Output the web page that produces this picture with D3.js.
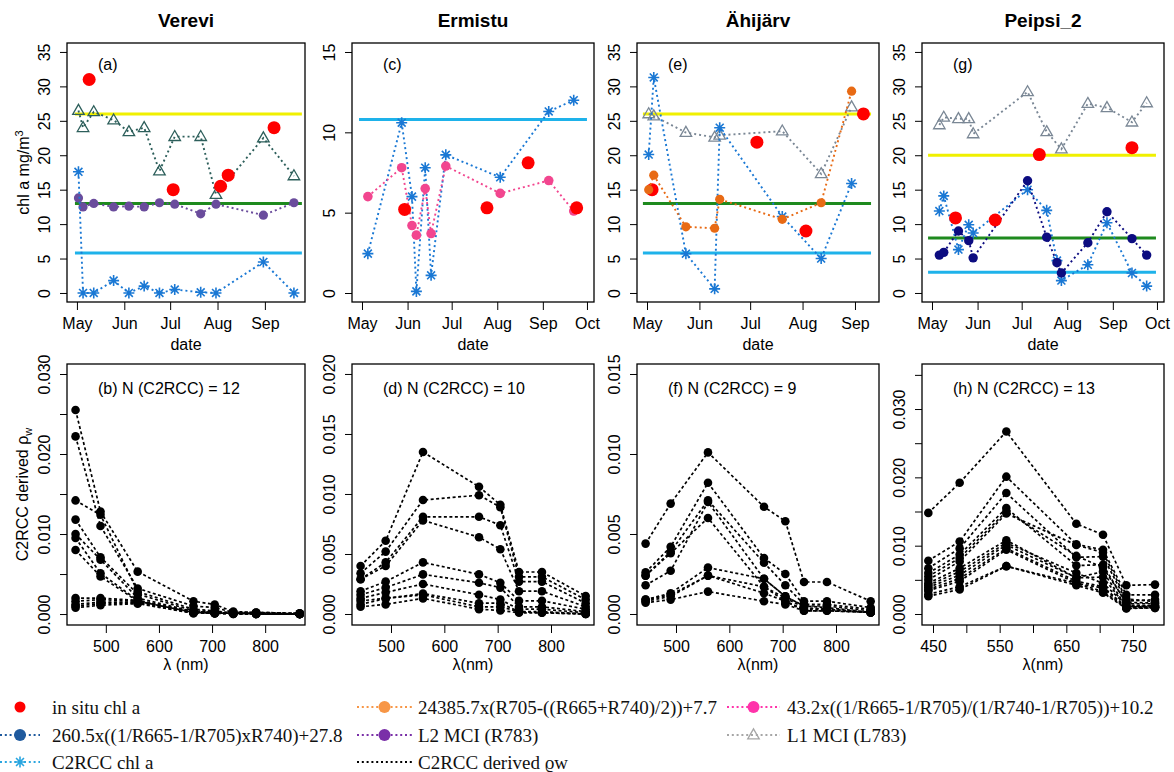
<!DOCTYPE html>
<html>
<head>
<meta charset="utf-8">
<script src="https://cdn.jsdelivr.net/npm/d3@7"></script>
<style>
  body { margin: 0; background: #fff; }
  svg { display: block; }
</style>
</head>
<body>
<svg id="chart" width="1174" height="772"></svg>
<script>
// ---- data ----
const lakes = ["Verevi", "Ermistu", "Ähijärv", "Peipsi_2"];
const panelTags = ["(a)", "(c)", "(e)", "(g)"];
const spectraTags = ["(b) N (C2RCC) = 12", "(d) N (C2RCC) = 10", "(f) N (C2RCC) = 9", "(h) N (C2RCC) = 13"];

// Verevi
const verDates = ["2017-05-02","2017-05-05","2017-05-12","2017-05-25","2017-06-04","2017-06-14","2017-06-24","2017-07-04","2017-07-21","2017-07-31","2017-08-31","2017-09-20"];
const verL1 = [26.5, 24.0, 26.3, 25.1, 23.4, 24.0, 17.7, 22.7, 22.7, 14.3, 22.5, 17.0];
const verL2 = [13.8, 12.5, 13.0, 12.5, 12.6, 12.5, 13.1, 12.9, 11.5, 12.9, 11.3, 13.1];
const verC2 = [17.6, 0.0, 0.0, 1.8, 0.0, 1.0, 0.0, 0.5, 0.1, 0.0, 4.5, 0.0];
const verInsituDates = ["2017-05-09","2017-07-03","2017-08-03","2017-08-08","2017-09-07"];
const verInsitu = [31.0, 15.0, 15.5, 17.1, 24.0];
const verLevels = [26, 13, 5.8];

// Ermistu
const ermDates = ["2017-05-05","2017-05-28","2017-06-04","2017-06-07","2017-06-13","2017-06-17","2017-06-27","2017-08-03","2017-09-05","2017-09-22"];
const ermPink = [6.0, 7.8, 4.2, 3.6, 6.5, 3.7, 7.9, 6.2, 7.0, 5.1];
const ermC2 = [2.45, 10.6, 6.0, 0.1, 7.8, 1.1, 8.6, 7.2, 11.3, 12.0];
const ermInsituDates = ["2017-05-30","2017-07-25","2017-08-22","2017-09-24"];
const ermInsitu = [5.2, 5.3, 8.1, 5.3];
const ermLevels = [null, null, 10.8];

// Ähijärv
const ahiDates = ["2017-05-02","2017-05-05","2017-05-24","2017-06-10","2017-06-13","2017-07-20","2017-08-12","2017-08-30"];
const ahiOrange = [15.0, 17.1, 9.6, 9.4, 13.6, 10.7, 13.1, 29.3];
const ahiL1 = [26.0, 25.7, 23.3, 22.6, 22.9, 23.5, 17.3, 27.0];
const ahiC2 = [20.1, 31.3, 5.7, 0.6, 24.0, 11.1, 5.0, 15.9];
const ahiInsituDates = ["2017-05-04","2017-07-05","2017-08-03","2017-09-06"];
const ahiInsitu = [15.0, 21.9, 9.0, 26.0];
const ahiLevels = [26, 13, 5.8];

// Peipsi_2
const peiDates = ["2017-05-06","2017-05-09","2017-05-19","2017-05-26","2017-05-29","2017-07-05","2017-07-18","2017-07-25","2017-07-28","2017-08-15","2017-08-28","2017-09-14","2017-09-24"];
const peiNavy = [5.5, 5.9, 9.0, 7.6, 5.1, 16.3, 8.1, 4.4, 2.9, 7.3, 11.8, 7.9, 5.5];
const peiL1 = [24.4, 25.5, 25.3, 25.3, 23.1, 29.2, 23.4, null, 20.9, 27.5, 26.9, 24.8, 27.6];
const peiC2 = [11.9, 14.1, 6.3, 9.9, 8.7, 15.0, 12.0, 4.7, 1.8, 4.1, 10.2, 2.9, 1.0];
const peiInsituDates = ["2017-05-17","2017-06-13","2017-07-13","2017-09-14"];
const peiInsitu = [10.9, 10.6, 20.1, 21.1];
const peiLevels = [20, 8, 3];

// time span of the reference lines
const levelSpans = [
  ["2017-04-29 17", "2017-09-25 05"],
  ["2017-04-29 00", "2017-10-01 00"],
  ["2017-04-28 14", "2017-09-10 12"],
  ["2017-04-28 08", "2017-09-30 08"]
];

// C2RCC water-leaving reflectance spectra
const bandsMSI = [443, 490, 560, 665, 705, 740, 783, 865];
const bandsPei = [443, 490, 560, 665, 705, 740, 783];
const verSpectra = [
  [0.0255, 0.0128, 0.0053, 0.0016, 0.0012, 0.0003, 0.0002, 0.0001],
  [0.0222, 0.0110, 0.0032, 0.0010, 0.0008, 0.0002, 0.0002, 0.0001],
  [0.0142, 0.0124, 0.0028, 0.0006, 0.0004, 0.0001, 0.0001, 0.0000],
  [0.0118, 0.0071, 0.0025, 0.0004, 0.0003, 0.0001, 0.0001, 0.0000],
  [0.0100, 0.0068, 0.0020, 0.0003, 0.0002, 0.0001, 0.0001, 0.0000],
  [0.0095, 0.0051, 0.0017, 0.0002, 0.0002, 0.0001, 0.0001, 0.0000],
  [0.0080, 0.0047, 0.0016, 0.0002, 0.0001, 0.0001, 0.0000, 0.0000],
  [0.0020, 0.0020, 0.0017, 0.0003, 0.0002, 0.0001, 0.0001, 0.0000],
  [0.0016, 0.0018, 0.0016, 0.0002, 0.0001, 0.0001, 0.0001, 0.0000],
  [0.0012, 0.0015, 0.0015, 0.0002, 0.0001, 0.0001, 0.0000, 0.0000],
  [0.0010, 0.0013, 0.0014, 0.0001, 0.0001, 0.0000, 0.0000, 0.0000],
  [0.0008, 0.0011, 0.0013, 0.0001, 0.0001, 0.0000, 0.0000, 0.0000]
];
const ermSpectra = [
  [0.0040, 0.0061, 0.0135, 0.0106, 0.0091, 0.0035, 0.0035, 0.0015],
  [0.0034, 0.0052, 0.0095, 0.0099, 0.0089, 0.0031, 0.0031, 0.0012],
  [0.0029, 0.0043, 0.0081, 0.0081, 0.0074, 0.0027, 0.0027, 0.0009],
  [0.0029, 0.0040, 0.0078, 0.0064, 0.0054, 0.0019, 0.0019, 0.0006],
  [0.0019, 0.0027, 0.0043, 0.0033, 0.0026, 0.0011, 0.0011, 0.0004],
  [0.0016, 0.0022, 0.0033, 0.0026, 0.0022, 0.0006, 0.0006, 0.0002],
  [0.0013, 0.0018, 0.0025, 0.0016, 0.0012, 0.0004, 0.0004, 0.0001],
  [0.0011, 0.0013, 0.0017, 0.0009, 0.0009, 0.0002, 0.0002, 0.0000],
  [0.0008, 0.0013, 0.0016, 0.0006, 0.0006, 0.0002, 0.0001, 0.0000],
  [0.0006, 0.0008, 0.0013, 0.0004, 0.0003, 0.0001, 0.0001, 0.0000]
];
const ahiSpectra = [
  [0.0044, 0.0069, 0.0101, 0.0067, 0.0058, 0.0020, 0.0020, 0.0008],
  [0.0026, 0.0042, 0.0082, 0.0035, 0.0025, 0.0008, 0.0008, 0.0004],
  [0.0024, 0.0039, 0.0071, 0.0032, 0.0018, 0.0006, 0.0006, 0.0003],
  [0.0018, 0.0027, 0.0070, 0.0022, 0.0011, 0.0005, 0.0005, 0.0002],
  [0.0024, 0.0038, 0.0060, 0.0017, 0.0008, 0.0003, 0.0003, 0.0001],
  [0.0009, 0.0013, 0.0029, 0.0022, 0.0011, 0.0005, 0.0004, 0.0001],
  [0.0008, 0.0011, 0.0024, 0.0013, 0.0008, 0.0002, 0.0002, 0.0001],
  [0.0007, 0.0009, 0.0014, 0.0008, 0.0006, 0.0002, 0.0002, 0.0001],
  [0.0009, 0.0012, 0.0024, 0.0017, 0.0010, 0.0004, 0.0003, 0.0001]
];
const peiSpectra = [
  [0.0148, 0.0192, 0.0267, 0.0132, 0.0116, 0.0042, 0.0043],
  [0.0078, 0.0106, 0.0201, 0.0102, 0.0094, 0.0028, 0.0028],
  [0.0067, 0.0096, 0.0177, 0.0083, 0.0084, 0.0019, 0.0021],
  [0.0060, 0.0087, 0.0155, 0.0071, 0.0072, 0.0015, 0.0015],
  [0.0050, 0.0077, 0.0147, 0.0101, 0.0090, 0.0022, 0.0018],
  [0.0045, 0.0067, 0.0108, 0.0053, 0.0062, 0.0011, 0.0012],
  [0.0039, 0.0057, 0.0101, 0.0053, 0.0054, 0.0011, 0.0010],
  [0.0034, 0.0048, 0.0094, 0.0045, 0.0038, 0.0009, 0.0009],
  [0.0029, 0.0040, 0.0070, 0.0042, 0.0031, 0.0008, 0.0009],
  [0.0026, 0.0036, 0.0070, 0.0045, 0.0033, 0.0009, 0.0010],
  [0.0042, 0.0062, 0.0104, 0.0060, 0.0045, 0.0013, 0.0012],
  [0.0055, 0.0082, 0.0150, 0.0085, 0.0068, 0.0017, 0.0016],
  [0.0036, 0.0052, 0.0096, 0.0048, 0.0040, 0.0010, 0.0011]
];

const legendLabels = [
  ["in situ chl a", "260.5x((1/R665-1/R705)xR740)+27.8", "C2RCC chl a"],
  ["24385.7x(R705-((R665+R740)/2))+7.7", "L2 MCI (R783)", "C2RCC derived ϱw"],
  ["43.2x((1/R665-1/R705)/(1/R740-1/R705))+10.2", "L1 MCI (L783)"]
];

// ---- layout / style ----
const SANS = "'Liberation Sans', Arial, sans-serif";
const SERIF = "'Liberation Serif', 'Times New Roman', serif";
const levelColors = ["#f0f000", "#1e8a1e", "#1eb2ea"];
const c2Color = "#1a78d4";
const panelX = [[67, 305], [352, 594], [637, 879], [922, 1164]];
const topY = [43, 302];
const botY = [364, 625];

const pDay = d3.timeParse("%Y-%m-%d");
const pHour = d3.timeParse("%Y-%m-%d %H");
const svg = d3.select("#chart");

function marker(g, shape, cx, cy, color, r) {
  if (shape === "circle") {
    g.append("circle").attr("cx", cx).attr("cy", cy).attr("r", r).attr("fill", color);
  } else if (shape === "star") {
    const p = d3.path(), b = r * 0.72;
    p.moveTo(cx - r, cy); p.lineTo(cx + r, cy);
    p.moveTo(cx, cy - r); p.lineTo(cx, cy + r);
    p.moveTo(cx - b, cy - b); p.lineTo(cx + b, cy + b);
    p.moveTo(cx - b, cy + b); p.lineTo(cx + b, cy - b);
    g.append("path").attr("d", p.toString()).attr("stroke", color).attr("stroke-width", 1.6).attr("fill", "none");
  } else if (shape === "tri") {
    g.append("path").attr("d", d3.symbol().type(d3.symbolTriangle).size(r * r * 1.9)())
      .attr("transform", `translate(${cx},${cy + 0.5})`)
      .attr("fill", "none").attr("stroke", color).attr("stroke-width", 1.3);
  }
}

function series(g, x, y, dates, vals, st) {
  const pts = dates.map((d, i) => ({ d: pDay(d), v: vals[i] })).filter(p => p.v != null);
  if (st.line) {
    g.append("path").datum(pts)
      .attr("d", d3.line().x(p => x(p.d)).y(p => y(p.v)))
      .attr("fill", "none").attr("stroke", st.color)
      .attr("stroke-width", 1.9).attr("stroke-dasharray", "2,3");
  }
  pts.forEach(p => marker(g, st.shape, x(p.d), y(p.v), st.color, st.r));
}

function styleAxis(a) {
  a.attr("font-family", SANS).attr("font-size", 16);
  a.select(".domain").remove();
}

function leftAxis(g, x0, y, ticks, labelStep) {
  const fmt = labelStep < 1 ? d3.format(".3f") : d3.format("d");
  const ax = d3.axisLeft(y).tickValues(ticks).tickSize(7)
    .tickFormat(v => Math.abs(v / labelStep - Math.round(v / labelStep)) < 1e-6 ? fmt(v) : "");
  g.append("g").attr("transform", `translate(${x0},0)`).call(ax).call(styleAxis)
    .call(a => a.selectAll("text").attr("transform", "rotate(-90)")
      .attr("x", 0).attr("y", -17).attr("dy", null).attr("text-anchor", "middle"));
}

function box(g, x0, x1, yr) {
  g.append("rect").attr("x", x0).attr("y", yr[0]).attr("width", x1 - x0).attr("height", yr[1] - yr[0])
    .attr("fill", "none").attr("stroke", "#000").attr("stroke-width", 1.3);
}

// ---- top panels: chl a time series ----
const topPanels = [
  { dom: ["2017-04-24 12", "2017-09-27 06"], yDom: [-1.31, 36.3], yTicks: d3.range(0, 36, 5), levels: verLevels,
    series: [
      { dates: verDates, vals: verL1, shape: "tri", color: "#2d5f5b", r: 5.5, line: true },
      { dates: verDates, vals: verL2, shape: "circle", color: "#6a4c9c", r: 4.6, line: true },
      { dates: verDates, vals: verC2, shape: "star", color: c2Color, r: 5.5, line: true }
    ], insitu: [verInsituDates, verInsitu] },
  { dom: ["2017-04-24 05", "2017-10-05 19"], yDom: [-0.56, 15.56], yTicks: d3.range(0, 16, 5), levels: ermLevels,
    series: [
      { dates: ermDates, vals: ermC2, shape: "star", color: c2Color, r: 5.5, line: true },
      { dates: ermDates, vals: ermPink, shape: "circle", color: "#f2468f", r: 4.8, line: true }
    ], insitu: [ermInsituDates, ermInsitu] },
  { dom: ["2017-04-25 02", "2017-09-15 05"], yDom: [-1.31, 36.3], yTicks: d3.range(0, 36, 5), levels: ahiLevels,
    series: [
      { dates: ahiDates, vals: ahiL1, shape: "tri", color: "#7a8795", r: 5.5, line: true },
      { dates: ahiDates, vals: ahiC2, shape: "star", color: c2Color, r: 5.5, line: true }
    ], insitu: [ahiInsituDates, ahiInsitu],
    after: [{ dates: ahiDates, vals: ahiOrange, shape: "circle", color: "#e86a14", r: 4.6, line: true }] },
  { dom: ["2017-04-24 05", "2017-10-05 19"], yDom: [-1.31, 36.3], yTicks: d3.range(0, 36, 5), levels: peiLevels,
    series: [
      { dates: peiDates, vals: peiL1, shape: "tri", color: "#7a8795", r: 5.5, line: true },
      { dates: peiDates, vals: peiC2, shape: "star", color: c2Color, r: 5.5, line: true },
      { dates: peiDates, vals: peiNavy, shape: "circle", color: "#0c0c80", r: 4.7, line: true }
    ], insitu: [peiInsituDates, peiInsitu] }
];

topPanels.forEach((cfg, i) => {
  const [x0, x1] = panelX[i];
  const x = d3.scaleTime().domain(cfg.dom.map(pHour)).range([x0, x1]);
  const y = d3.scaleLinear().domain(cfg.yDom).range([topY[1], topY[0]]);
  const g = svg.append("g");

  // reference levels
  const span = levelSpans[i].map(pHour);
  cfg.levels.forEach((v, k) => {
    if (v == null) return;
    g.append("line").attr("x1", x(span[0])).attr("x2", x(span[1]))
      .attr("y1", y(v)).attr("y2", y(v))
      .attr("stroke", levelColors[k]).attr("stroke-width", 3);
  });

  cfg.series.forEach(s => series(g, x, y, s.dates, s.vals, s));
  series(g, x, y, cfg.insitu[0], cfg.insitu[1], { shape: "circle", color: "#ff0000", r: 6.5, line: false });
  (cfg.after || []).forEach(s => series(g, x, y, s.dates, s.vals, s));

  box(g, x0, x1, topY);

  const months = d3.timeMonth.range(d3.timeMonth.ceil(x.domain()[0]), x.domain()[1]);
  g.append("g").attr("transform", `translate(0,${topY[1]})`)
    .call(d3.axisBottom(x).tickValues(months).tickFormat(d3.timeFormat("%b")).tickSize(8).tickPadding(8))
    .call(styleAxis);
  leftAxis(g, x0, y, cfg.yTicks, 5);

  g.append("text").attr("x", (x0 + x1) / 2).attr("y", 27).attr("text-anchor", "middle")
    .attr("font-family", SANS).attr("font-weight", "bold").attr("font-size", 19).text(lakes[i]);
  g.append("text").attr("x", x0 + 31).attr("y", 70)
    .attr("font-family", SANS).attr("font-size", 16).text(panelTags[i]);
  g.append("text").attr("x", (x0 + x1) / 2).attr("y", 350).attr("text-anchor", "middle")
    .attr("font-family", SANS).attr("font-size", 16).text("date");
});

// ---- bottom panels: spectra ----
const botPanels = [
  { spectra: verSpectra, bands: bandsMSI, xDom: [426.9, 875], yDom: [-0.00137, 0.03125],
    xTicks: [500, 600, 700, 800], xStep: 100, yTicks: d3.range(0, 0.0301, 0.005), yStep: 0.01, xTitle: "λ (nm)" },
  { spectra: ermSpectra, bands: bandsMSI, xDom: [426.9, 880.6], yDom: [-0.000917, 0.02083],
    xTicks: [500, 600, 700, 800], xStep: 100, yTicks: d3.range(0, 0.0201, 0.005), yStep: 0.005, xTitle: "λ(nm)" },
  { spectra: ahiSpectra, bands: bandsMSI, xDom: [426.9, 880.6], yDom: [-0.000688, 0.015625],
    xTicks: [500, 600, 700, 800], xStep: 100, yTicks: d3.range(0, 0.0151, 0.005), yStep: 0.005, xTitle: "λ(nm)" },
  { spectra: peiSpectra, bands: bandsPei, xDom: [433.5, 796.5], yDom: [-0.00161, 0.03659],
    xTicks: d3.range(450, 751, 50), xStep: 100, yTicks: d3.range(0, 0.0351, 0.005), yStep: 0.01, xTitle: "λ(nm)" }
];

botPanels.forEach((cfg, i) => {
  const [x0, x1] = panelX[i];
  const x = d3.scaleLinear().domain(cfg.xDom).range([x0, x1]);
  const y = d3.scaleLinear().domain(cfg.yDom).range([botY[1], botY[0]]);
  const g = svg.append("g");

  const line = d3.line().x((v, k) => x(cfg.bands[k])).y(v => y(v));
  cfg.spectra.forEach(s => {
    g.append("path").attr("d", line(s)).attr("fill", "none")
      .attr("stroke", "#000").attr("stroke-width", 1.7).attr("stroke-dasharray", "3,2.5");
  });
  cfg.spectra.forEach(s => s.forEach((v, k) => marker(g, "circle", x(cfg.bands[k]), y(v), "#000", 4.3)));

  box(g, x0, x1, botY);

  const first = cfg.xTicks[0];
  g.append("g").attr("transform", `translate(0,${botY[1]})`)
    .call(d3.axisBottom(x).tickValues(cfg.xTicks).tickSize(8).tickPadding(8)
      .tickFormat(v => (v - first) % cfg.xStep === 0 ? v : ""))
    .call(styleAxis);
  leftAxis(g, x0, y, cfg.yTicks, cfg.yStep);

  g.append("text").attr("x", x0 + 31).attr("y", 394)
    .attr("font-family", SANS).attr("font-size", 16).text(spectraTags[i]);
  g.append("text").attr("x", (x0 + x1) / 2).attr("y", 670).attr("text-anchor", "middle")
    .attr("font-family", SANS).attr("font-size", 16).text(cfg.xTitle);
});

// y axis titles
const yt1 = svg.append("text").attr("transform", `translate(29,${(topY[0] + topY[1]) / 2}) rotate(-90)`)
  .attr("text-anchor", "middle").attr("font-family", SANS).attr("font-size", 16);
yt1.append("tspan").text("chl a mg/m");
yt1.append("tspan").attr("dy", -6).attr("font-size", 11).text("3");

const yt2 = svg.append("text").attr("transform", `translate(28,${(botY[0] + botY[1]) / 2}) rotate(-90)`)
  .attr("text-anchor", "middle").attr("font-family", SANS).attr("font-size", 16);
yt2.append("tspan").text("C2RCC derived  ρ");
yt2.append("tspan").attr("dy", 4).attr("font-size", 11).text("w");

// ---- legend ----
const legendStyle = [
  [{ shape: "circle", color: "#ff0000", r: 5.5, line: false },
   { shape: "circle", color: "#1f5a9e", r: 6, line: true },
   { shape: "star", color: "#2aa6e0", r: 5.5, line: true }],
  [{ shape: "circle", color: "#f79646", r: 6, line: true },
   { shape: "circle", color: "#7a30a8", r: 6, line: true },
   { shape: null, color: "#000", line: true }],
  [{ shape: "circle", color: "#ff33aa", r: 6, line: true },
   { shape: "tri", color: "#a6a6a6", r: 5.5, line: true }]
];
const legCols = [{ x0: 0, x1: 40, xt: 52 }, { x0: 357, x1: 412, xt: 418 }, { x0: 727, x1: 780, xt: 787 }];
const legRows = [707, 735, 762];
const lg = svg.append("g");
legendLabels.forEach((col, c) => {
  col.forEach((label, r) => {
    const st = legendStyle[c][r], cy = legRows[r], L = legCols[c];
    if (st.line) {
      lg.append("line").attr("x1", L.x0).attr("x2", L.x1).attr("y1", cy).attr("y2", cy)
        .attr("stroke", st.color).attr("stroke-width", 2).attr("stroke-dasharray", "2,2.8");
    }
    if (st.shape) marker(lg, st.shape, (L.x0 + L.x1) / 2, cy, st.color, st.r);
    lg.append("text").attr("x", L.xt).attr("y", cy + 6.5).attr("font-family", SERIF)
      .attr("font-size", 19).attr("fill", "#111").text(label);
  });
});
</script>
</body>
</html>
